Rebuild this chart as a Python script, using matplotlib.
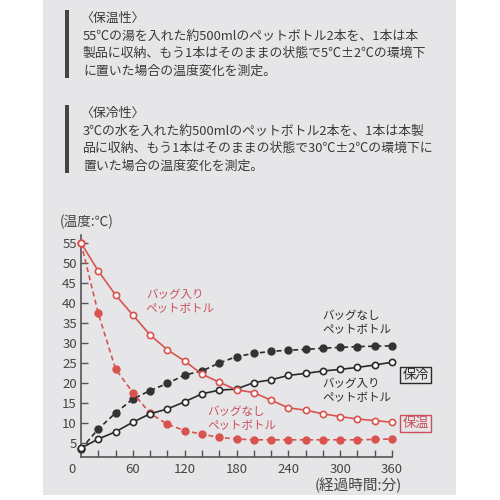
import matplotlib.pyplot as plt
from matplotlib.patches import Rectangle

plt.rcParams['font.family'] = ['Noto Sans CJK JP', 'DejaVu Sans']

# 経過時間(分)
minutes = [0, 20, 40, 60, 80, 100, 120, 140, 160, 180,
           200, 220, 240, 260, 280, 300, 320, 340, 360]
# 保温: バッグ入り / バッグなし
warm_bag = [55, 48, 42, 37, 32, 28.3, 25.5, 22.2, 20.2, 18.3,
            17.6, 15.7, 13.8, 13.2, 12.3, 11.6, 11.0, 10.6, 10.2]
warm_nobag = [55, 37.4, 23.5, 17.6, 12.4, 9.7, 8.1, 7.2, 6.4, 6.0,
              5.8, 5.8, 5.8, 5.8, 5.8, 5.8, 5.8, 5.9, 6.0]
# 保冷: バッグ入り / バッグなし
cool_bag = [3.7, 6.0, 7.8, 10.2, 12.3, 13.5, 15.3, 17.3, 18.2, 18.5,
            20.1, 20.8, 21.9, 22.4, 23.0, 23.4, 23.9, 24.5, 25.2]
cool_nobag = [3.5, 8.5, 12.5, 16.0, 18.1, 19.9, 22.0, 23.0, 25.0, 26.6,
              27.4, 27.9, 28.2, 28.4, 28.7, 28.9, 29.1, 29.2, 29.3]

y_ticks = [5, 10, 15, 20, 25, 30, 35, 40, 45, 50, 55]
x_ticks = [60, 120, 180, 240, 300, 360]

RED = '#d9534f'
RED_TXT = '#c8505a'
BLK = '#2a2a2a'
TXT = '#3a3a3a'

fig = plt.figure(figsize=(5, 5), dpi=100)
fig.patch.set_facecolor('white')
# 背景パネル
fig.add_artist(Rectangle((0.086, 0.01), 0.826, 0.99, transform=fig.transFigure,
                         facecolor='#e6e6e8', edgecolor='none', zorder=0))

# 説明文
def block(y_top, title, lines):
    fig.add_artist(Rectangle((65 / 500, 1 - (y_top + 68) / 500), 4 / 500, 68 / 500,
                             transform=fig.transFigure, facecolor='#444444',
                             edgecolor='none'))
    fig.text(80 / 500, 1 - (y_top + 8) / 500, title, fontsize=9.3, color=TXT,
             ha='left', va='center')
    for i, s in enumerate(lines):
        fig.text(83 / 500, 1 - (y_top + 26 + i * 17.5) / 500, s, fontsize=9.3,
                 color=TXT, ha='left', va='center')

block(10, '〈保温性〉', ['55℃の湯を入れた約500mlのペットボトル2本を、1本は本',
                      '製品に収納、もう1本はそのままの状態で5℃±2℃の環境下',
                      'に置いた場合の温度変化を測定。'])
block(105, '〈保冷性〉', ['3℃の水を入れた約500mlのペットボトル2本を、1本は本製',
                       '品に収納、もう1本はそのままの状態で30℃±2℃の環境下に',
                       '置いた場合の温度変化を測定。'])

# グラフ
ax = fig.add_axes([0.162, 0.086, 0.622, 0.444])
ax.set_facecolor('none')
ax.set_xlim(0, 360)
ax.set_ylim(1.5, 57)

ms_f = 5.0
ms_o = 4.5
ax.plot(minutes, cool_nobag, linestyle=(0, (3, 2)), color=BLK, lw=1.2,
        marker='o', ms=ms_f, mfc='#333333', mec='#333333', clip_on=False, zorder=3)
ax.plot(minutes, warm_nobag, linestyle=(0, (3, 2)), color=RED, lw=1.2,
        marker='o', ms=ms_f, mfc=RED, mec=RED, clip_on=False, zorder=3)
ax.plot(minutes, cool_bag, '-', color=BLK, lw=1.2,
        marker='o', ms=ms_o, mfc='white', mec=BLK, mew=1.2, clip_on=False, zorder=4)
ax.plot(minutes, warm_bag, '-', color=RED, lw=1.2,
        marker='o', ms=ms_o, mfc='white', mec=RED, mew=1.2, clip_on=False, zorder=4)

for s in ['top', 'right']:
    ax.spines[s].set_visible(False)
for s in ['left', 'bottom']:
    ax.spines[s].set_color('#555555')
    ax.spines[s].set_linewidth(1.2)

ax.set_yticks(y_ticks)
ax.set_xticks(x_ticks)
ax.set_xticks(minutes[1:], minor=True)
ax.tick_params(axis='both', which='both', direction='in', length=5,
               color='#555555', width=1, labelsize=9.5, labelcolor='#444444')
ax.tick_params(axis='y', pad=3)
ax.tick_params(axis='x', pad=4)

ax.text(-0.03, -0.025, '0', transform=ax.transAxes, fontsize=9.5, color='#444444',
        ha='center', va='top')
ax.text(-0.068, 1.06, '(温度:℃)', transform=ax.transAxes, fontsize=9.8,
        color='#444444', ha='left', va='center')
ax.text(0.75, -0.13, '(経過時間:分)', transform=ax.transAxes, fontsize=10.5,
        color='#444444', ha='left', va='center')

ax.text(75, 40.4, 'バッグ入り\nペットボトル', color=RED_TXT, fontsize=8.3,
        ha='left', va='center', linespacing=1.15)
ax.text(279, 35.2, 'バッグなし\nペットボトル', color=BLK, fontsize=8.3,
        ha='left', va='center', linespacing=1.15)
ax.text(279, 18.2, 'バッグ入り\nペットボトル', color=BLK, fontsize=8.3,
        ha='left', va='center', linespacing=1.15)
ax.text(146, 11.2, 'バッグなし\nペットボトル', color=RED_TXT, fontsize=8.3,
        ha='left', va='center', linespacing=1.15)

ax.text(372, 22, '保冷', color=BLK, fontsize=9.5, ha='left', va='center',
        bbox=dict(boxstyle='square,pad=0.15', fc='none', ec=BLK, lw=1))
ax.text(372, 9.8, '保温', color=RED_TXT, fontsize=9.5, ha='left', va='center',
        bbox=dict(boxstyle='square,pad=0.15', fc='none', ec=RED_TXT, lw=1))

fig.savefig('out.png', dpi=100)
